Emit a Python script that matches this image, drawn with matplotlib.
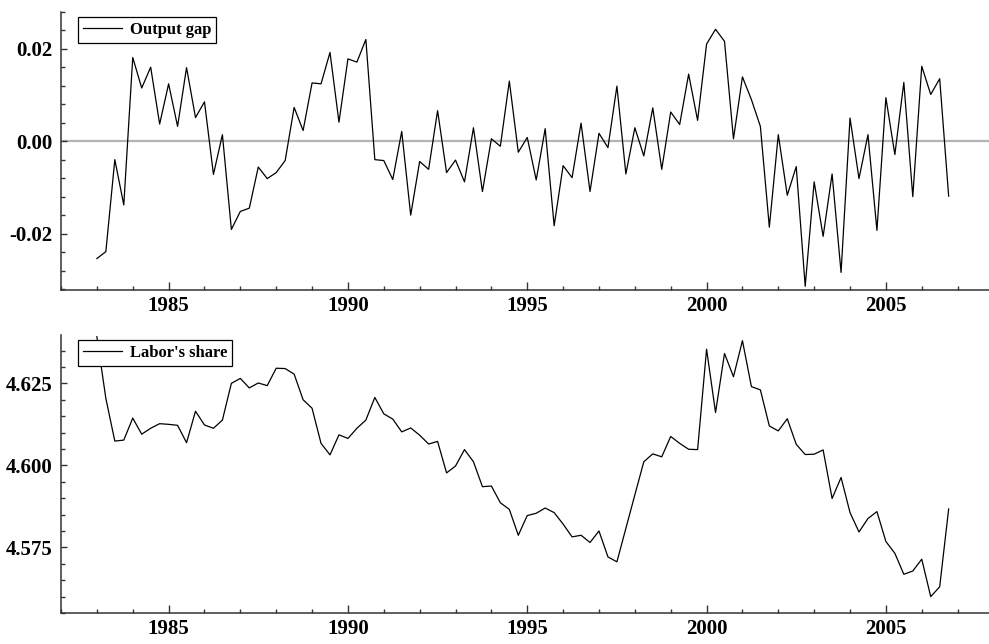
import numpy as np
import matplotlib.pyplot as plt
from matplotlib.ticker import MultipleLocator, FormatStrFormatter

# quarterly observations, 1983Q1 .. 2006Q4
years = np.arange(1983, 2007)

output_gap = [
    -0.0254, -0.0239, -0.0040, -0.0138,
    0.0181, 0.0115, 0.0160, 0.0037,
    0.0124, 0.0032, 0.0159, 0.0051,
    0.0085, -0.0072, 0.0014, -0.0191,
    -0.0152, -0.0145, -0.0056, -0.0081,
    -0.0068, -0.0042, 0.0073, 0.0023,
    0.0126, 0.0124, 0.0192, 0.0041,
    0.0178, 0.0171, 0.0220, -0.0040,
    -0.0042, -0.0083, 0.0021, -0.0160,
    -0.0044, -0.0061, 0.0066, -0.0068,
    -0.0041, -0.0088, 0.0029, -0.0109,
    0.0005, -0.0011, 0.0130, -0.0024,
    0.0008, -0.0084, 0.0027, -0.0183,
    -0.0053, -0.0079, 0.0039, -0.0109,
    0.0017, -0.0014, 0.0119, -0.0071,
    0.0029, -0.0032, 0.0072, -0.0061,
    0.0063, 0.0036, 0.0145, 0.0045,
    0.0210, 0.0242, 0.0216, 0.0005,
    0.0139, 0.0090, 0.0032, -0.0186,
    0.0014, -0.0117, -0.0055, -0.0314,
    -0.0088, -0.0206, -0.0071, -0.0284,
    0.0050, -0.0081, 0.0014, -0.0193,
    0.0094, -0.0029, 0.0127, -0.0120,
    0.0162, 0.0101, 0.0135, -0.0119,
]

labor_share = [
    4.6392, 4.6204, 4.6074, 4.6077,
    4.6144, 4.6095, 4.6113, 4.6127,
    4.6125, 4.6122, 4.6069, 4.6165,
    4.6123, 4.6113, 4.6138, 4.6250,
    4.6265, 4.6236, 4.6251, 4.6243,
    4.6296, 4.6295, 4.6278, 4.6200,
    4.6174, 4.6067, 4.6032, 4.6093,
    4.6082, 4.6113, 4.6138, 4.6207,
    4.6157, 4.6141, 4.6102, 4.6114,
    4.6092, 4.6065, 4.6073, 4.5977,
    4.5998, 4.6048, 4.6011, 4.5935,
    4.5937, 4.5886, 4.5866, 4.5787,
    4.5847, 4.5854, 4.5870, 4.5856,
    4.5821, 4.5782, 4.5787, 4.5765,
    4.5800, 4.5721, 4.5706, 4.5808,
    4.5910, 4.6011, 4.6035, 4.6026,
    4.6088, 4.6067, 4.6049, 4.6048,
    4.6354, 4.6161, 4.6341, 4.6270,
    4.6380, 4.6240, 4.6230, 4.6120,
    4.6105, 4.6142, 4.6064, 4.6033,
    4.6034, 4.6047, 4.5899, 4.5963,
    4.5856, 4.5797, 4.5838, 4.5859,
    4.5768, 4.5732, 4.5668, 4.5678,
    4.5714, 4.5600, 4.5630, 4.5867,
]

dates = np.repeat(years, 4) + np.tile([0.0, 0.25, 0.5, 0.75], len(years))

plt.rcParams['font.family'] = ['Liberation Serif', 'DejaVu Serif']
plt.rcParams['axes.unicode_minus'] = False

fig = plt.figure(figsize=(9.89, 6.44), dpi=100)
ax1 = fig.add_axes([0.0617, 0.5497, 0.9383, 0.4321])
ax2 = fig.add_axes([0.0617, 0.0481, 0.9383, 0.4321])


def style_axis(ax, major_y, minor_y, fmt):
    for side in ['top', 'right']:
        ax.spines[side].set_visible(False)
    for side in ['left', 'bottom']:
        ax.spines[side].set_color('#333333')
        ax.spines[side].set_linewidth(1.1)
    ax.set_xlim(1982, 2007.875)
    ax.xaxis.set_major_locator(MultipleLocator(5))
    ax.xaxis.set_minor_locator(MultipleLocator(1))
    ax.yaxis.set_major_locator(MultipleLocator(major_y))
    ax.yaxis.set_minor_locator(MultipleLocator(minor_y))
    ax.yaxis.set_major_formatter(FormatStrFormatter(fmt))
    ax.tick_params(axis='x', which='major', direction='in', length=6, width=1, color='#333333',
                   labelsize=15, pad=4)
    ax.tick_params(axis='x', which='minor', direction='in', length=3.2, width=1, color='#333333')
    ax.tick_params(axis='y', which='major', direction='in', length=4, width=1, color='#333333',
                   labelsize=15, pad=6)
    ax.tick_params(axis='y', which='minor', direction='in', length=3.2, width=1, color='#333333')
    for lab in ax.get_xticklabels() + ax.get_yticklabels():
        lab.set_fontweight('bold')


ax1.axhline(0, color='#b4b4b4', linewidth=1.6, zorder=1)
ax1.plot(dates, output_gap, color='black', linewidth=0.9, label='Output gap', zorder=2)
ax1.set_ylim(-0.0322, 0.0280)
style_axis(ax1, 0.02, 0.004, '%.2f')

ax2.plot(dates, labor_share, color='black', linewidth=0.9, label="Labor's share")
ax2.set_ylim(4.5550, 4.6398)
style_axis(ax2, 0.025, 0.005, '%.3f')

for ax in [ax1, ax2]:
    leg = ax.legend(loc='upper left', bbox_to_anchor=(0.0186, 0.98), borderaxespad=0,
                    fancybox=False, framealpha=1, edgecolor='black', handlelength=2.3,
                    handletextpad=0.5, borderpad=0.3,
                    prop={'family': 'Liberation Serif', 'weight': 'bold', 'size': 12})
    leg.get_frame().set_linewidth(0.9)

fig.savefig('out.png', dpi=100)
